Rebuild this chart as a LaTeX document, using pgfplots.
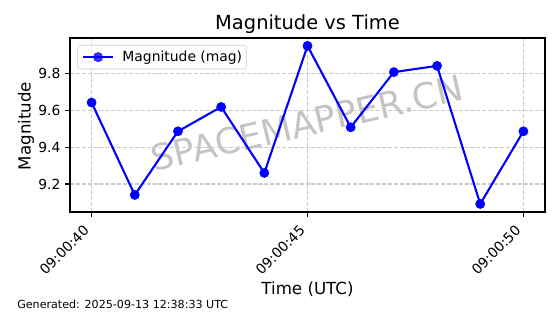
\documentclass[border=0pt]{standalone}
\usepackage{pgfplots}
\pgfplotsset{compat=1.18}
\usepackage{fontspec}
\setmainfont{DejaVu Sans}
\definecolor{mblue}{RGB}{0,0,255}
\begin{document}
\begin{tikzpicture}
\useasboundingbox (0,0) rectangle (403.2pt,226.08pt);
% watermark
\node[rotate=13, text=black!23, font=\fontsize{25.6}{30}\selectfont, inner sep=0pt] at (221.0pt,137.5pt) {SPACEMAPPER.CN};
\begin{axis}[
  scale only axis,
  width=342pt, height=125.28pt,
  at={(50.4pt,73.44pt)}, anchor=south west,
  xmin=-0.5, xmax=10.5,
  ymin=9.047, ymax=9.996,
  xtick={0,5,10},
  xticklabels={09:00:40,09:00:45,09:00:50},
  ytick={9.2,9.4,9.6,9.8},
  yticklabels={9.2,9.4,9.6,9.8},
  tick align=outside,
  major tick length=3.5pt,
  every tick/.style={black, line width=0.8pt},
  axis line style={line width=0.8pt},
  xtick pos=bottom, ytick pos=left,
  grid=major,
  major grid style={black!20, line width=0.8pt, dash pattern=on 2.96pt off 1.28pt},
  tick label style={font=\fontsize{10}{12}\selectfont},
  xticklabel style={xshift=-6.5pt, yshift=-5pt, rotate=45, anchor=north east, inner sep=0pt},
  yticklabel style={anchor=east, inner sep=0pt, xshift=-3.2pt},
  legend style={at={(0.0154,0.9598)}, anchor=north west, draw=black!20, rounded corners=2pt,
    fill=white, fill opacity=0.8, text opacity=1, font=\fontsize{10}{12}\selectfont,
    inner xsep=3.2pt, inner ysep=4pt, nodes={inner sep=0pt},
    /tikz/every odd column/.append style={column sep=6pt}},
  legend cell align=left,
  legend image code/.code={\draw[mark repeat=2,mark phase=2,#1] plot coordinates {(0pt,0pt)(10.8pt,0pt)(21.6pt,0pt)};},
]
\addplot[mblue, line width=1.5pt, mark=*, mark size=3.3pt, mark options={solid, fill=mblue, draw=mblue, line width=0.4pt}] coordinates {
(0,9.644) (1,9.140) (2,9.487) (3,9.620) (4,9.260) (5,9.953) (6,9.509) (7,9.810) (8,9.844) (9,9.091) (10,9.487)
};
\addlegendentry{Magnitude (mag)}
\end{axis}
\node[anchor=base, font=\fontsize{14}{17}\selectfont, inner sep=0pt] at (221.4pt,204.5pt) {Magnitude vs Time};
\node[anchor=base, font=\fontsize{12}{14}\selectfont, inner sep=0pt] at (221.4pt,14.4pt) {Time (UTC)};
\node[anchor=base, rotate=90, font=\fontsize{12}{14}\selectfont, inner sep=0pt] at (22pt,135.4pt) {Magnitude};
\node[anchor=base west, font=\fontsize{8}{10}\selectfont, inner sep=0pt] at (12.24pt,4.32pt) {Generated: 2025-09-13 12:38:33 UTC};
\end{tikzpicture}
\end{document}
